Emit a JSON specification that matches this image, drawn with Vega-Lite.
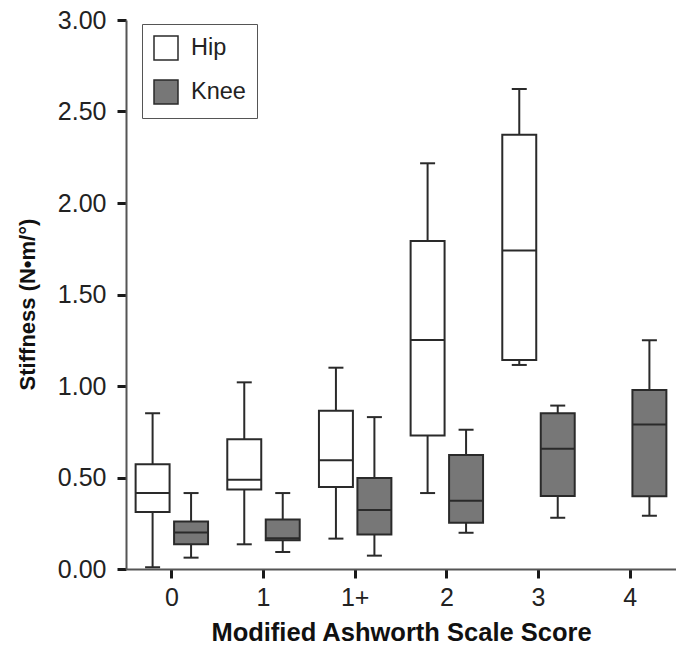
{
  "$schema": "https://vega.github.io/schema/vega-lite/v6.json",
  "autosize": {"type": "none"},
  "padding": {"left": 126, "top": 20, "right": 0, "bottom": 79},
  "width": 550,
  "height": 549,
  "background": "white",
  "config": {
    "view": {"stroke": null},
    "font": "Liberation Sans",
    "axis": {
      "grid": false,
      "domainColor": "#555555",
      "domainWidth": 2,
      "tickColor": "#1a1a1a",
      "tickWidth": 3,
      "tickSize": 9,
      "labelFont": "Liberation Sans",
      "labelFontSize": 25,
      "labelColor": "#222222",
      "titleFont": "Liberation Sans",
      "titleFontWeight": "bold",
      "titleColor": "#111111"
    }
  },
  "data": {
    "values": [
      {"score": "0", "part": "Hip", "min": 0.01, "q1": 0.311, "median": 0.415, "q3": 0.572, "max": 0.851},
      {"score": "0", "part": "Knee", "min": 0.062, "q1": 0.135, "median": 0.2, "q3": 0.26, "max": 0.415},
      {"score": "1", "part": "Hip", "min": 0.135, "q1": 0.435, "median": 0.488, "q3": 0.709, "max": 1.02},
      {"score": "1", "part": "Knee", "min": 0.093, "q1": 0.157, "median": 0.168, "q3": 0.27, "max": 0.415},
      {"score": "1+", "part": "Hip", "min": 0.166, "q1": 0.448, "median": 0.594, "q3": 0.865, "max": 1.1},
      {"score": "1+", "part": "Knee", "min": 0.073, "q1": 0.188, "median": 0.322, "q3": 0.497, "max": 0.83},
      {"score": "2", "part": "Hip", "min": 0.415, "q1": 0.729, "median": 1.251, "q3": 1.792, "max": 2.217},
      {"score": "2", "part": "Knee", "min": 0.198, "q1": 0.253, "median": 0.373, "q3": 0.623, "max": 0.761},
      {"score": "3", "part": "Hip", "min": 1.115, "q1": 1.142, "median": 1.741, "q3": 2.373, "max": 2.623},
      {"score": "3", "part": "Knee", "min": 0.28, "q1": 0.399, "median": 0.657, "q3": 0.851, "max": 0.893},
      {"score": "4", "part": "Knee", "min": 0.291, "q1": 0.397, "median": 0.79, "q3": 0.978, "max": 1.25}
    ]
  },
  "encoding": {
    "x": {
      "field": "score",
      "type": "nominal",
      "sort": ["0", "1", "1+", "2", "3", "4"],
      "scale": {"domain": ["0", "1", "1+", "2", "3", "4"], "paddingInner": 0, "paddingOuter": 0},
      "axis": {"title": "Modified Ashworth Scale Score", "titleFontSize": 25.5, "labelAngle": 0, "labelPadding": 7, "titlePadding": 10, "bandPosition": 0.5}
    },
    "xOffset": {
      "field": "part",
      "type": "nominal",
      "scale": {"domain": ["Hip", "Knee"], "paddingInner": 0.117, "paddingOuter": 0.25}
    }
  },
  "layer": [
    {
      "mark": {"type": "rule", "color": "#2a2a2a", "strokeWidth": 2},
      "encoding": {
        "y": {
          "field": "min",
          "type": "quantitative",
          "scale": {"domain": [0, 3], "nice": false, "zero": true},
          "axis": {"title": "Stiffness (N•m/°)", "titleFontSize": 22, "titleY": 284, "values": [0, 0.5, 1, 1.5, 2, 2.5, 3], "format": ".2f", "labelPadding": 11, "titlePadding": 18}
        },
        "y2": {"field": "max"}
      }
    },
    {
      "mark": {"type": "tick", "color": "#2a2a2a", "thickness": 2, "size": 15, "opacity": 1},
      "encoding": {"y": {"field": "max", "type": "quantitative"}}
    },
    {
      "mark": {"type": "tick", "color": "#2a2a2a", "thickness": 2, "size": 15, "opacity": 1},
      "encoding": {"y": {"field": "min", "type": "quantitative"}}
    },
    {
      "mark": {"type": "bar", "stroke": "#2a2a2a", "strokeWidth": 2, "opacity": 1},
      "encoding": {
        "y": {"field": "q1", "type": "quantitative"},
        "y2": {"field": "q3"},
        "fill": {
          "field": "part",
          "type": "nominal",
          "scale": {"domain": ["Hip", "Knee"], "range": ["#ffffff", "#777777"]},
          "legend": {
            "title": null,
            "orient": "none",
            "legendX": 16,
            "legendY": 4,
            "direction": "vertical",
            "symbolType": "square",
            "symbolSize": 576,
            "symbolStrokeColor": "#2a2a2a",
            "symbolStrokeWidth": 1.5,
            "symbolOpacity": 1,
            "labelFont": "Liberation Sans",
            "labelFontSize": 23.5,
            "labelColor": "#222222",
            "labelOffset": 12,
            "rowPadding": 14,
            "padding": 11,
            "strokeColor": "#555555",
            "fillColor": "white"
          }
        }
      }
    },
    {
      "mark": {"type": "tick", "color": "#2a2a2a", "thickness": 2, "size": 34, "opacity": 1},
      "encoding": {"y": {"field": "median", "type": "quantitative"}}
    }
  ]
}
